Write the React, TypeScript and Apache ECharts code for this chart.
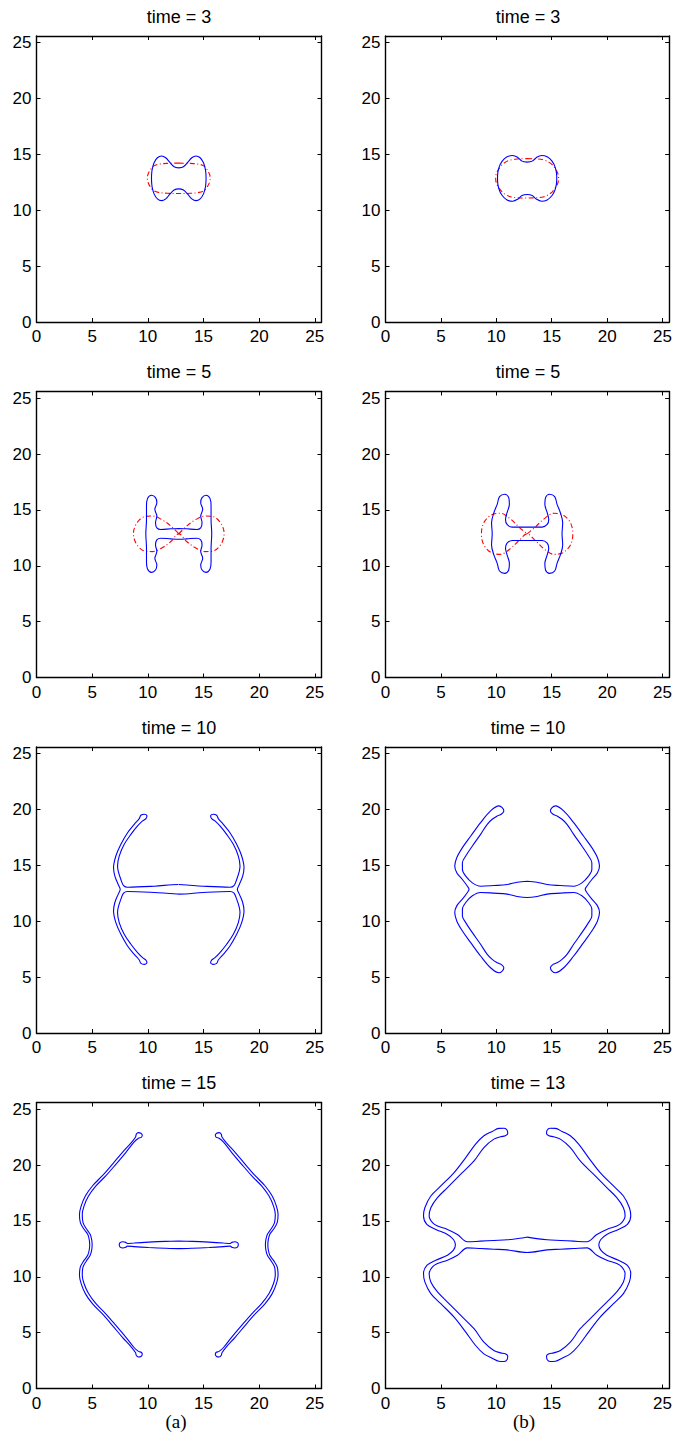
import React, { useEffect, useRef } from "react";
import * as echarts from "echarts";

// ---------- data ----------
const AXIS_MIN = 0;
const AXIS_MAX = 25.6;
const TICK_STEP = 5;
const CX = 12.78; // centre of symmetry of the patterns
const CY = 12.86;

const titlesA = ["time = 3", "time = 5", "time = 10", "time = 15"];
const titlesB = ["time = 3", "time = 5", "time = 10", "time = 13"];
const columnLabels = ["(a)", "(b)"];

// quarter contours: from the top middle point to the right middle point
const blueA1 = [[12.78, 13.8], [13.2, 13.9], [13.6, 14.3], [13.95, 14.7], [14.33, 14.86], [14.7, 14.7], [15.0, 14.25], [15.17, 13.66], [15.22, 13.2], [15.23, 12.86]];
const redA1 = [[12.78, 14.22], [13.8, 14.2], [14.6, 14.12], [15.05, 13.95], [15.35, 13.6], [15.55, 13.2], [15.6, 12.86]];

const blueB1 = [[12.78, 14.31], [13.24, 14.4], [13.6, 14.71], [14.08, 14.91], [14.59, 14.79], [15.03, 14.4], [15.33, 13.8], [15.45, 13.06], [15.45, 12.86]];
const redB1 = [[12.78, 14.62], [13.6, 14.6], [14.3, 14.5], [14.9, 14.2], [15.3, 13.75], [15.55, 13.3], [15.62, 12.86]];

const blueA2 = [[12.78, 13.34], [13.49, 13.31], [14.39, 13.25], [14.75, 13.4], [14.87, 13.85], [14.75, 14.45], [14.93, 15.05], [14.75, 15.65], [14.87, 16.1], [15.23, 16.31], [15.59, 16.01], [15.68, 15.35], [15.68, 14.15], [15.74, 12.86]];
// figure-eight: from the crossing point to the right extreme along the upper side
const redA2 = [[12.78, 12.86], [13.49, 13.55], [14.24, 14.09], [15.14, 14.45], [15.89, 14.39], [16.49, 13.91], [16.79, 13.3], [16.85, 12.86]];

const blueB2 = [[12.78, 13.46], [14.13, 13.46], [14.59, 13.7], [14.73, 14.15], [14.59, 14.75], [14.38, 15.5], [14.44, 16.1], [14.79, 16.4], [15.27, 16.19], [15.48, 15.5], [15.78, 14.75], [15.99, 13.85], [15.93, 12.86]];
const redB2 = [[12.78, 12.86], [13.5, 13.45], [14.3, 14.2], [15.2, 14.7], [16.0, 14.55], [16.6, 14.0], [16.85, 13.4], [16.9, 12.86]];

const blueA3 = [[12.8, 13.29], [14.98, 13.14], [17.38, 13.05], [17.74, 13.2], [17.98, 13.74], [18.22, 14.49], [18.28, 14.94], [18.13, 15.84], [17.68, 16.89], [17.08, 17.78], [16.48, 18.53], [16.03, 18.98], [15.73, 19.19], [15.64, 19.43], [15.88, 19.58], [16.18, 19.49], [16.33, 19.19], [16.78, 18.68], [17.38, 17.93], [17.98, 16.89], [18.43, 15.84], [18.64, 14.79], [18.52, 14.04], [18.22, 13.29], [18.04, 12.86]];

const blueB3 = [[12.78, 13.59], [13.68, 13.5], [14.58, 13.29], [15.78, 13.2], [16.98, 13.14], [17.72, 13.44], [18.32, 14.04], [18.62, 14.64], [18.62, 15.24], [18.32, 15.84], [17.72, 16.74], [16.98, 17.78], [16.38, 18.68], [15.93, 19.13], [15.48, 19.43], [15.12, 19.58], [14.88, 19.88], [15.03, 20.18], [15.33, 20.33], [16.08, 19.88], [16.98, 18.83], [17.87, 17.63], [18.62, 16.59], [19.13, 15.69], [19.31, 14.94], [19.13, 14.34], [18.62, 13.74], [18.17, 13.14], [18.02, 12.86]];

// right arm, upper half: inner edge up, round tip, outer edge down
const armA4 = [[20.56, 12.86], [20.6, 13.3], [20.74, 13.8], [21.08, 14.3], [21.38, 14.84], [21.45, 15.58], [21.3, 16.3], [20.9, 17.2], [20.22, 18.13], [19.34, 19.03], [18.43, 20.07], [17.54, 21.12], [16.8, 22.05], [16.4, 22.4], [16.15, 22.48], [16.06, 22.66], [16.18, 22.85], [16.42, 22.9], [16.6, 22.75], [16.66, 22.52], [17.06, 21.99], [17.84, 21.14], [18.73, 20.09], [19.64, 19.05], [20.52, 18.15], [21.16, 17.25], [21.55, 16.33], [21.7, 15.58], [21.62, 14.84], [21.32, 14.3], [20.96, 13.8], [20.82, 13.3], [20.78, 12.86]];
const barA4 = [[12.78, 13.2], [14.0, 13.17], [15.5, 13.1], [16.8, 13.02], [17.4, 12.98], [17.55, 13.08], [17.8, 13.14], [18.05, 13.06], [18.13, 12.86]];

const blueB4 = [[12.78, 13.55], [14.58, 13.31], [15.78, 13.25], [16.98, 13.19], [18.17, 13.13], [19.07, 13.79], [19.97, 14.24], [20.87, 14.54], [21.32, 14.84], [21.62, 15.43], [21.47, 16.18], [20.87, 17.08], [19.97, 17.98], [18.77, 19.18], [17.57, 20.37], [16.68, 21.57], [15.78, 22.32], [15.18, 22.53], [14.75, 22.62], [14.53, 22.82], [14.58, 23.12], [14.85, 23.3], [15.33, 23.28], [15.93, 23.01], [16.68, 22.62], [17.43, 21.87], [18.32, 20.67], [19.37, 19.33], [20.57, 18.13], [21.47, 17.23], [22.01, 16.18], [22.13, 15.43], [21.83, 14.69], [21.02, 14.24], [19.97, 13.79], [19.43, 13.34], [19.25, 12.86]];

// ---------- helpers ----------
type P = number[];
const mirX = (q: P[]) => q.map(([x, y]) => [2 * CX - x, y]);
const mirY = (q: P[]) => q.map(([x, y]) => [x, 2 * CY - y]);
const closeLoop = (pts: P[]) => [...pts, pts[0]];
// four-fold symmetric closed contour from a quarter
const fromQuarter = (q: P[]) =>
  closeLoop([...q, ...mirY(q).reverse(), ...mirX(mirY(q)), ...mirX(q).reverse()]);
// closed contour symmetric about y = CY from its upper half
const fromHalf = (h: P[]) => closeLoop([...h, ...mirY(h).reverse()]);

// ---------- layout ----------
const W = 675;
const H = 1447;
const GRID_LEFT = [36.5, 385.5];
const GRID_TOP = [36, 391.5, 747, 1102.5];
const GRID_W = 285;
const GRID_H = 286;
const FONT = "'Liberation Sans', Arial, Helvetica, sans-serif";

const BLUE = "#0000ff";
const RED = "#ff0000";

type Curve = { data: P[]; color: string; dash?: boolean };

function panelCurves(row: number, col: number): Curve[] {
  const key = `${row}${col}`;
  switch (key) {
    case "00": return [{ data: fromQuarter(redA1), color: RED, dash: true }, { data: fromQuarter(blueA1), color: BLUE }];
    case "01": return [{ data: fromQuarter(redB1), color: RED, dash: true }, { data: fromQuarter(blueB1), color: BLUE }];
    case "10": return [{ data: fromQuarter(redA2), color: RED, dash: true }, { data: fromQuarter(blueA2), color: BLUE }];
    case "11": return [{ data: fromQuarter(redB2), color: RED, dash: true }, { data: fromQuarter(blueB2), color: BLUE }];
    case "20": return [{ data: fromQuarter(blueA3), color: BLUE }];
    case "21": return [{ data: fromQuarter(blueB3), color: BLUE }];
    case "30": {
      const right = fromHalf(armA4);
      return [
        { data: right, color: BLUE },
        { data: mirX(right), color: BLUE },
        { data: fromQuarter(barA4), color: BLUE },
      ];
    }
    default: return [{ data: fromQuarter(blueB4), color: BLUE }];
  }
}

function buildOption() {
  const grid: any[] = [];
  const xAxis: any[] = [];
  const yAxis: any[] = [];
  const series: any[] = [];
  const graphic: any[] = [];
  const axisLine = { show: true, onZero: false, lineStyle: { color: "#000", width: 1.4 } };
  const axisTick = { show: true, inside: true, length: 4, lineStyle: { color: "#000", width: 1 } };
  const fmt = (v: number) => (Math.abs(v % TICK_STEP) < 1e-9 ? String(v) : "");

  for (let row = 0; row < 4; row++) {
    for (let col = 0; col < 2; col++) {
      const g = grid.length;
      grid.push({ left: GRID_LEFT[col], top: GRID_TOP[row], width: GRID_W, height: GRID_H, containLabel: false });
      const common = { gridIndex: g, type: "value", min: AXIS_MIN, max: AXIS_MAX, interval: TICK_STEP, splitLine: { show: false }, axisLine, axisTick };
      xAxis.push({ ...common, position: "bottom", axisLabel: { show: true, color: "#000", fontSize: 17, fontFamily: FONT, margin: 6, formatter: fmt } });
      xAxis.push({ ...common, position: "top", axisLabel: { show: false } });
      yAxis.push({ ...common, position: "left", axisLabel: { show: true, color: "#000", fontSize: 17, fontFamily: FONT, margin: 5, formatter: fmt } });
      yAxis.push({ ...common, position: "right", axisLabel: { show: false } });

      for (const c of panelCurves(row, col)) {
        series.push({
          type: "line",
          xAxisIndex: 2 * g,
          yAxisIndex: 2 * g,
          data: c.data,
          showSymbol: false,
          symbol: "none",
          smooth: 0.35,
          silent: true,
          lineStyle: { color: c.color, width: 1.1, type: c.dash ? [5, 2.5, 1, 2.5] : "solid" },
        });
      }

      const title = col === 0 ? titlesA[row] : titlesB[row];
      graphic.push({
        type: "text",
        x: GRID_LEFT[col] + GRID_W / 2,
        y: GRID_TOP[row] - 19.5,
        style: { text: title, fill: "#000", font: `18px ${FONT}`, align: "center", verticalAlign: "middle", textAlign: "center", textVerticalAlign: "middle" },
      });
    }
  }
  const labelX = [176, 524];
  for (let col = 0; col < 2; col++) {
    graphic.push({
      type: "text",
      x: labelX[col],
      y: 1421,
      style: { text: columnLabels[col], fill: "#000", font: "19px 'Liberation Serif', 'DejaVu Serif', serif", align: "center", verticalAlign: "middle", textAlign: "center", textVerticalAlign: "middle" },
    });
  }

  return { animation: false, backgroundColor: "#fff", grid, xAxis, yAxis, series, graphic };
}

export default function App() {
  const ref = useRef<HTMLDivElement>(null);
  useEffect(() => {
    if (!ref.current) return;
    const chart = echarts.init(ref.current, undefined, { renderer: "svg", width: W, height: H });
    chart.setOption(buildOption() as any);
    return () => chart.dispose();
  }, []);
  return <div ref={ref} style={{ position: "absolute", left: 0, top: 0, width: W, height: H }} />;
}
